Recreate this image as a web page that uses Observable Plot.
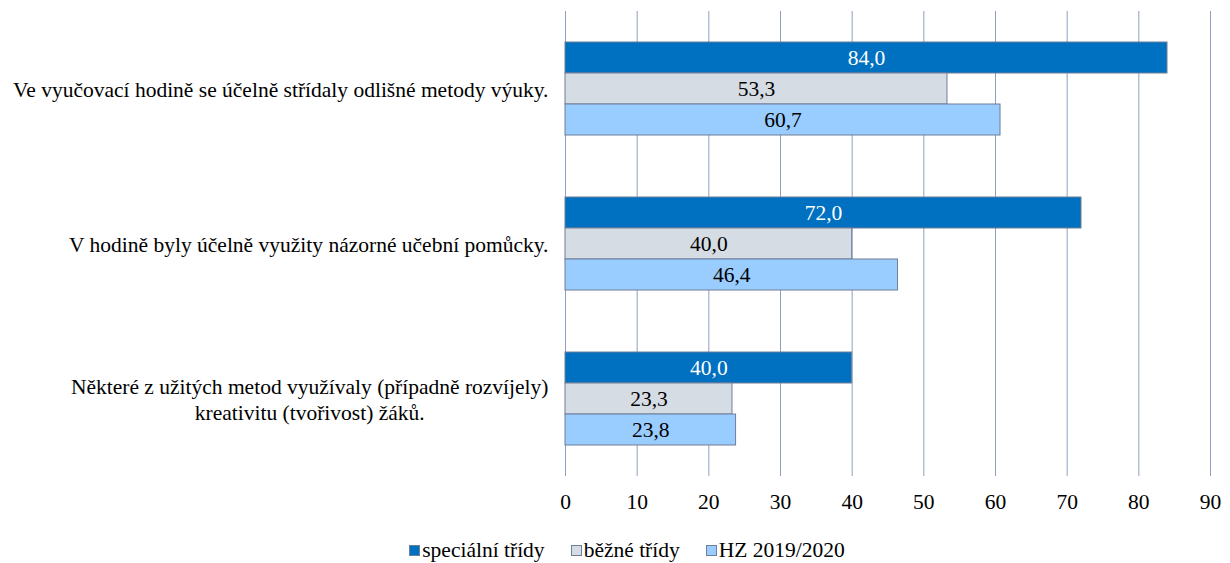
<!DOCTYPE html>
<html>
<head>
<meta charset="utf-8">
<script src="https://cdn.jsdelivr.net/npm/d3@7"></script>
<script src="https://cdn.jsdelivr.net/npm/@observablehq/plot@0.6"></script>
<style>
  .serif { font-family: 'Liberation Serif'; }
  #legend { display: flex; justify-content: center; gap: 26px; font-size: 21.5px; color: #000; padding-left: 24px; margin-top: 18px; }
  #legend .item { display: flex; align-items: center; gap: 2px; }
  #legend .sw { width: 11px; height: 11px; border: 1px solid #6F7F99; box-sizing: border-box; }
</style>
</head>
<body style="margin:0;background:#fff">
<div id="chart" class="serif"></div>
<div id="legend" class="serif"></div>
<script>
const categories = [
  "Ve vyučovací hodině se účelně střídaly odlišné metody výuky.",
  "V hodině byly účelně využity názorné učební pomůcky.",
  "Některé z užitých metod využívaly (případně rozvíjely) kreativitu (tvořivost) žáků."
];
const categoryLines = [
  "Ve vyučovací hodině se účelně střídaly odlišné metody výuky.",
  "V hodině byly účelně využity názorné učební pomůcky.",
  "Některé z užitých metod využívaly (případně rozvíjely)\nkreativitu (tvořivost) žáků."
];
const series = ["speciální třídy", "běžné třídy", "HZ 2019/2020"];
const special = [84.0, 72.0, 40.0];
const regular = [53.3, 40.0, 23.3];
const hz = [60.7, 46.4, 23.8];
const xTicks = [0, 10, 20, 30, 40, 50, 60, 70, 80, 90];
const colors = ["#0070C0", "#D6DCE4", "#99CCFF"];

const valuesBySeries = [special, regular, hz];
const data = categories.flatMap((c, i) =>
  series.map((s, j) => ({ category: c, series: s, value: valuesBySeries[j][i] }))
);
const fmt = v => v.toFixed(1).replace(".", ",");
const lineOf = new Map(categories.map((c, i) => [c, categoryLines[i]]));

const chart = Plot.plot({
  width: 1230,
  height: 520,
  marginLeft: 565,
  marginRight: 20,
  marginTop: 10,
  marginBottom: 43,
  style: { fontFamily: "Liberation Serif", fontSize: "21.5px", color: "#000", background: "#fff" },
  x: { domain: [0, 90], ticks: xTicks },
  y: { domain: series, paddingInner: 0, paddingOuter: 0.933, axis: null },
  fy: { domain: categories, padding: 0, label: null },
  color: { domain: series, range: colors },
  marks: [
    Plot.gridX(xTicks, { stroke: "#8EA0BD", strokeOpacity: 1, strokeWidth: 1 }),
    Plot.barX(data, { x: "value", y: "series", fy: "category", fill: "series", stroke: "#6F7F99", strokeWidth: 1 }),
    Plot.text(data.filter(d => d.series === series[0]), {
      x: d => d.value / 2, y: "series", fy: "category", text: d => fmt(d.value), fill: "white", fontSize: 21.5
    }),
    Plot.text(data.filter(d => d.series !== series[0]), {
      x: d => d.value / 2, y: "series", fy: "category", text: d => fmt(d.value), fill: "black", fontSize: 21.5
    }),
    Plot.axisX({ ticks: xTicks, tickSize: 0, tickPadding: 17, label: null, fontSize: 21.5 }),
    Plot.axisFy({ anchor: "left", tickSize: 0, tickPadding: 17, label: null, fontSize: 21.5,
      tickFormat: d => lineOf.get(d), lineHeight: 1.18 })
  ]
});
document.getElementById("chart").appendChild(chart);

// Centre the lines of wrapped category labels inside their block
chart.querySelectorAll('g[aria-label="fy-axis tick label"] text').forEach(t => {
  const spans = t.querySelectorAll("tspan");
  if (spans.length < 2) return;
  const w = Math.max(...Array.from(spans, s => s.getComputedTextLength()));
  t.setAttribute("text-anchor", "middle");
  spans.forEach(s => s.setAttribute("x", -w / 2));
});

const legend = document.getElementById("legend");
series.forEach((s, i) => {
  const item = document.createElement("div");
  item.className = "item";
  const sw = document.createElement("span");
  sw.className = "sw";
  sw.style.background = colors[i];
  const label = document.createElement("span");
  label.textContent = s;
  item.appendChild(sw);
  item.appendChild(label);
  legend.appendChild(item);
});
</script>
</body>
</html>
